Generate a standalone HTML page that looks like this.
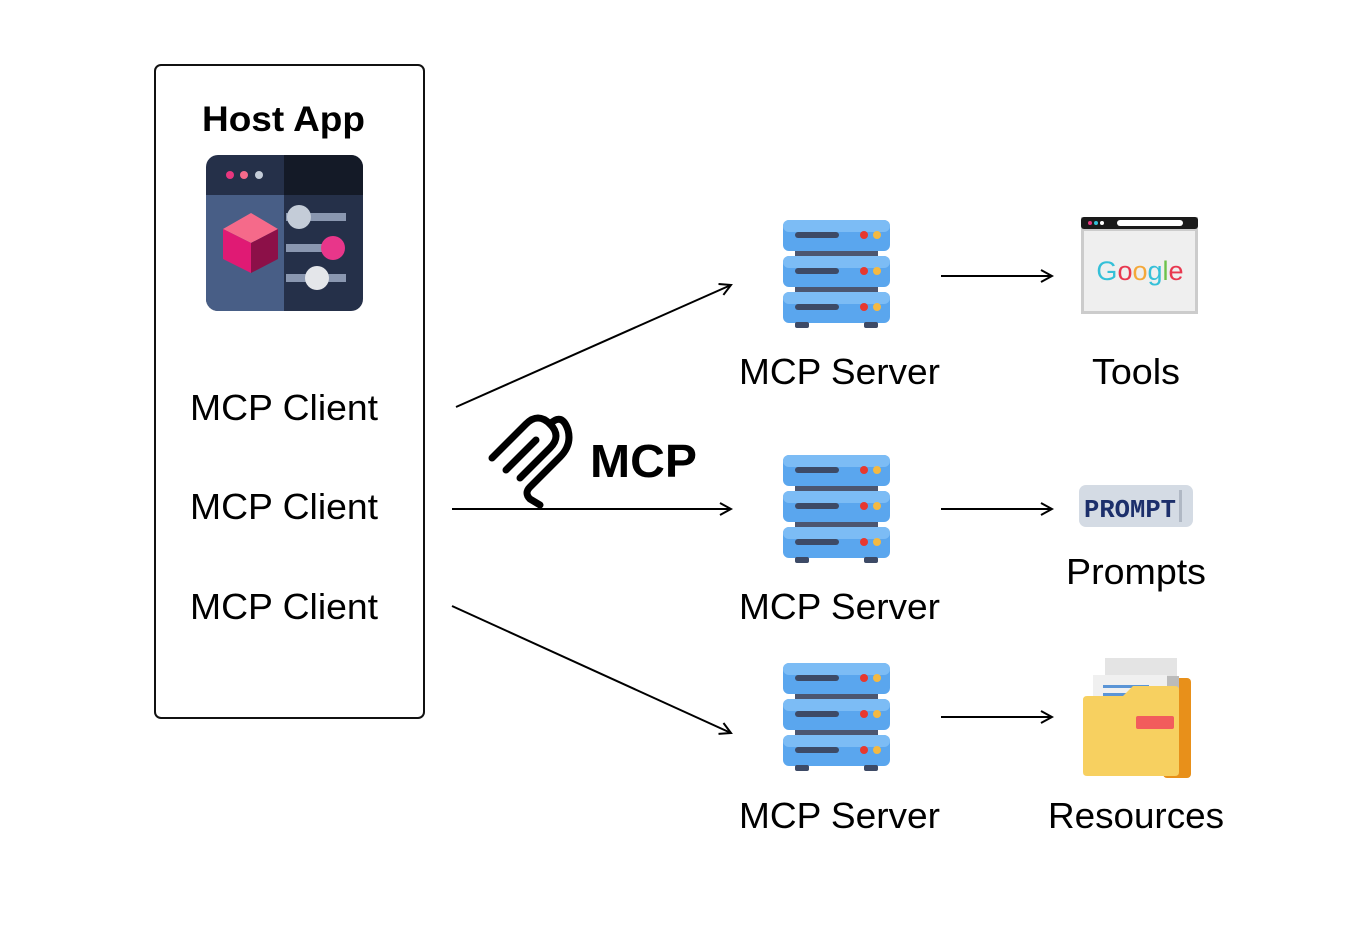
<!DOCTYPE html>
<html><head><style>body{margin:0;background:#fff}svg{display:block}text{font-family:"Liberation Sans",sans-serif}</style></head><body>
<svg width="1363" height="935" viewBox="0 0 1363 935" xmlns="http://www.w3.org/2000/svg">
<defs>
<g id="unit">
<rect x="0" y="0" width="107" height="31" rx="6" fill="#5aa6ee"/>
<rect x="0" y="0" width="107" height="12" rx="6" fill="#7cbcf5"/>
<rect x="12" y="12" width="44" height="6" rx="3" fill="#3d4a66"/>
<circle cx="81" cy="15" r="4" fill="#e8382f"/>
<circle cx="94" cy="15" r="4" fill="#f4b942"/>
</g>
<g id="server">
<rect x="12" y="29" width="83" height="8" fill="#4c5670"/>
<rect x="12" y="65" width="83" height="8" fill="#4c5670"/>
<use href="#unit" y="0"/>
<use href="#unit" y="36"/>
<use href="#unit" y="72"/>
<rect x="12" y="102" width="14" height="6" rx="2" fill="#3d4a66"/>
<rect x="81" y="102" width="14" height="6" rx="2" fill="#3d4a66"/>
</g>
<marker id="ah" markerWidth="14" markerHeight="14" refX="12" refY="7" orient="auto" markerUnits="userSpaceOnUse">
<path d="M1,1 L12,7 L1,13" fill="none" stroke="#000" stroke-width="2"/>
</marker>
</defs>

<rect x="155" y="65" width="269" height="653" rx="6" fill="none" stroke="#111" stroke-width="2"/>
<text x="202" y="131" font-size="35" font-weight="bold" textLength="163" lengthAdjust="spacingAndGlyphs">Host App</text>

<g transform="translate(206,155)">
<rect width="157" height="156" rx="12" fill="#253049"/>
<path d="M78,0 H145 A12,12 0 0 1 157,12 V40 H78Z" fill="#141a27"/>
<path d="M0,40 H78 V156 H12 A12,12 0 0 1 0,144Z" fill="#485e86"/>
<circle cx="24" cy="20" r="4" fill="#e8367e"/>
<circle cx="38" cy="20" r="4" fill="#f56a8a"/>
<circle cx="53" cy="20" r="4" fill="#c4ccd8"/>
<polygon points="45,58 72,74 45,88 17,74" fill="#f56a8a"/>
<polygon points="17,74 45,88 45,118 17,104" fill="#e01a74"/>
<polygon points="45,88 72,74 72,104 45,118" fill="#8c1048"/>
<rect x="80" y="58" width="60" height="8" fill="#8a97b0"/>
<circle cx="93" cy="62" r="12" fill="#c4ccd8"/>
<rect x="80" y="89" width="50" height="8" fill="#8a97b0"/>
<circle cx="127" cy="93" r="12" fill="#e8368a"/>
<rect x="80" y="119" width="60" height="8" fill="#8a97b0"/>
<circle cx="111" cy="123" r="12" fill="#e4e6ea"/>
</g>

<text x="190" y="420" font-size="36" textLength="188" lengthAdjust="spacingAndGlyphs">MCP Client</text>
<text x="190" y="519" font-size="36" textLength="188" lengthAdjust="spacingAndGlyphs">MCP Client</text>
<text x="190" y="619" font-size="36" textLength="188" lengthAdjust="spacingAndGlyphs">MCP Client</text>

<g stroke="#000" stroke-width="2" fill="none">
<line x1="456" y1="407" x2="731" y2="285" marker-end="url(#ah)"/>
<line x1="452" y1="509" x2="731" y2="509" marker-end="url(#ah)"/>
<line x1="452" y1="606" x2="731" y2="733" marker-end="url(#ah)"/>
<line x1="941" y1="276" x2="1052" y2="276" marker-end="url(#ah)"/>
<line x1="941" y1="509" x2="1052" y2="509" marker-end="url(#ah)"/>
<line x1="941" y1="717" x2="1052" y2="717" marker-end="url(#ah)"/>
</g>

<g fill="none" stroke="#000" stroke-width="7" stroke-linecap="round" stroke-linejoin="round">
<path d="M492,458 L526,424 Q538,412 550,424 Q562,436 550,448 L520,478"/>
<path d="M506,470 L536,440"/>
<path d="M550,424 Q562,412 568,430 Q572,445 560,457 L530,487 Q524,493 530,499 L540,505"/>
</g>
<text x="590" y="477" font-size="46" font-weight="bold" textLength="107" lengthAdjust="spacingAndGlyphs">MCP</text>

<use href="#server" x="783" y="220"/>
<use href="#server" x="783" y="455"/>
<use href="#server" x="783" y="663"/>

<text x="739" y="384" font-size="36" textLength="201" lengthAdjust="spacingAndGlyphs">MCP Server</text>
<text x="739" y="619" font-size="36" textLength="201" lengthAdjust="spacingAndGlyphs">MCP Server</text>
<text x="739" y="828" font-size="36" textLength="201" lengthAdjust="spacingAndGlyphs">MCP Server</text>

<g transform="translate(1081,217)">
<rect width="117" height="97" fill="#ccc"/>
<rect x="3" y="14" width="111" height="80" fill="#efefef"/>
<rect width="117" height="12" rx="3" fill="#1a1a1a"/>
<rect x="36" y="3" width="66" height="6" rx="3" fill="#fff"/>
<circle cx="9" cy="6" r="2" fill="#e8367e"/><circle cx="15" cy="6" r="2" fill="#35c0d8"/><circle cx="21" cy="6" r="2" fill="#fff"/>
<text x="59" y="63" font-size="27" text-anchor="middle"><tspan fill="#35c0d8">G</tspan><tspan fill="#e8384f">o</tspan><tspan fill="#f4a83a">o</tspan><tspan fill="#35c0d8">g</tspan><tspan fill="#6cc24a">l</tspan><tspan fill="#e8384f">e</tspan></text>
</g>
<text x="1092" y="384" font-size="36" textLength="88" lengthAdjust="spacingAndGlyphs">Tools</text>

<rect x="1079" y="485" width="114" height="42" rx="7" fill="#d4dbe4"/>
<text x="1084" y="517" font-size="26" font-weight="bold" fill="#1c2f6b" style="font-family:'Liberation Mono',monospace" textLength="92" lengthAdjust="spacingAndGlyphs">PROMPT</text>
<rect x="1179" y="490" width="3" height="32" fill="#b0b8c4"/>
<text x="1066" y="584" font-size="36" textLength="140" lengthAdjust="spacingAndGlyphs">Prompts</text>

<g transform="translate(1083,658)">
<rect x="22" y="0" width="72" height="40" fill="#e4e4e4"/>
<rect x="80" y="20" width="28" height="100" rx="4" fill="#e8901a"/>
<rect x="84" y="18" width="12" height="96" fill="#bbb"/>
<rect x="10" y="17" width="74" height="40" fill="#f0f0f0"/>
<rect x="20" y="27" width="46" height="3" fill="#5b95d6"/>
<rect x="20" y="35" width="28" height="3" fill="#5b95d6"/>
<path d="M4,38 H40 L50,28 H92 Q96,28 96,32 V114 Q96,118 92,118 H4 Q0,118 0,114 V42 Q0,38 4,38Z" fill="#f7d060"/>
<rect x="53" y="58" width="38" height="13" rx="2" fill="#f25c5c"/>
</g>
<text x="1048" y="828" font-size="36" textLength="176" lengthAdjust="spacingAndGlyphs">Resources</text>
</svg>
</body></html>
